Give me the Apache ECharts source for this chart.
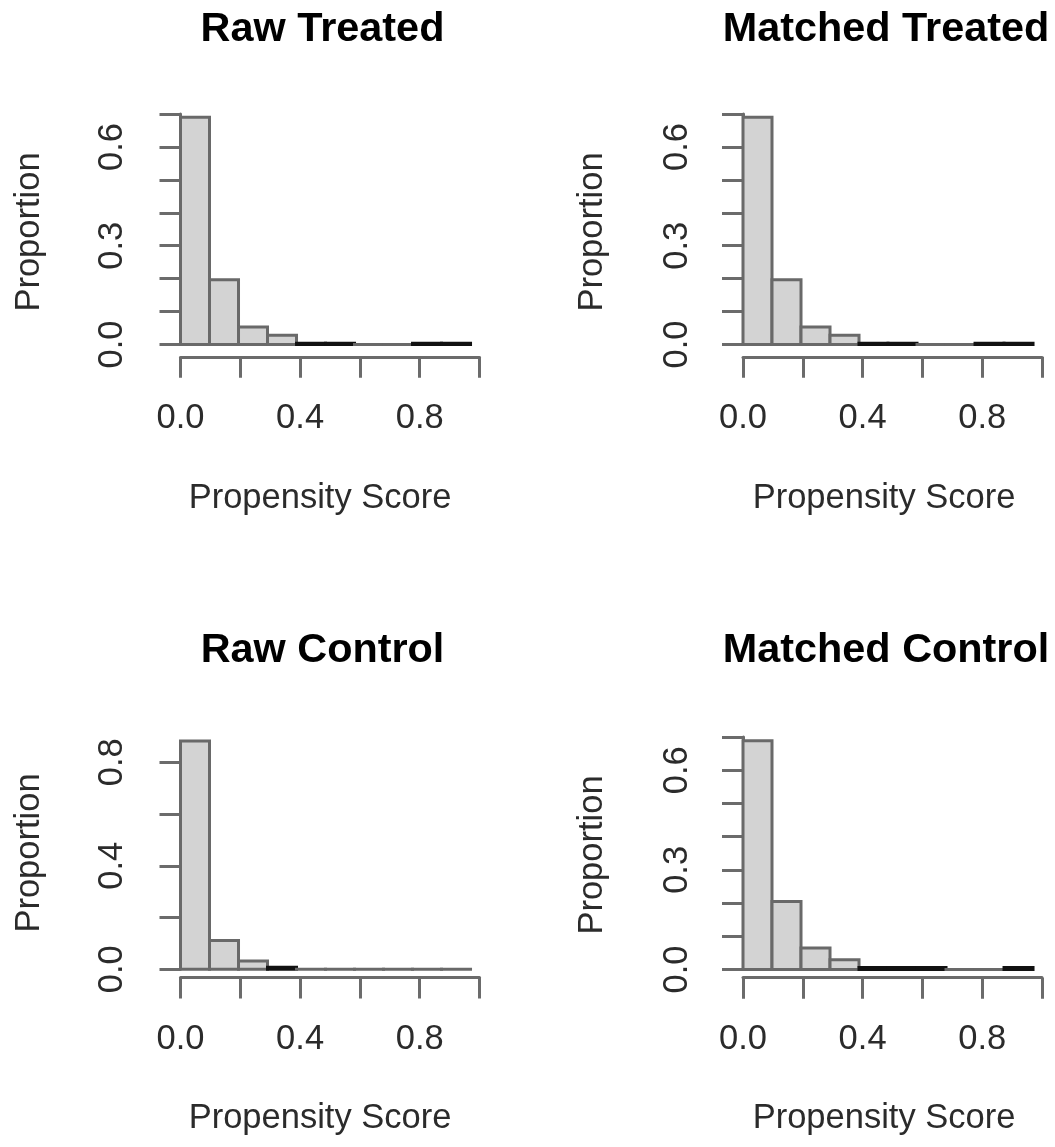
<!DOCTYPE html>
<html>
<head>
<meta charset="utf-8">
<script src="https://cdn.jsdelivr.net/npm/echarts@6/dist/echarts.min.js"></script>
<style>
html,body{margin:0;padding:0;background:#fff;}
#chart{width:1055px;height:1147px;}
</style>
</head>
<body>
<div id="chart"></div>
<script>
// ---- data ----
const breaks = [0.000, 0.097, 0.194, 0.291, 0.388, 0.485, 0.582, 0.679, 0.776, 0.873, 0.970];
const rawTreated     = [0.690, 0.197, 0.053, 0.028, 0.004, 0.004, 0, 0, 0.004, 0.004];
const matchedTreated = [0.690, 0.197, 0.053, 0.028, 0.004, 0.004, 0, 0, 0.004, 0.004];
const rawControl     = [0.882, 0.111, 0.032, 0.008, 0, 0, 0, 0, 0, 0];
const matchedControl = [0.689, 0.205, 0.065, 0.029, 0.006, 0.006, 0.006, 0, 0, 0.006];
const panelTitles = ['Raw Treated', 'Matched Treated', 'Raw Control', 'Matched Control'];
const xTickLabels = ['0.0', '0.4', '0.8'];
const yTickLabelsA = ['0.0', '0.3', '0.6'];
const yTickLabelsB = ['0.0', '0.4', '0.8'];
const xName = 'Propensity Score';
const yName = 'Proportion';

// ---- layout ----
const FONT = 'Liberation Sans, Arial, Helvetica, sans-serif';
const FS = 34.5;
const TXT = '#2b2b2b';
const panels = [
  {vals: rawTreated,     ymax: 0.7, yint: 0.1, ylab: yTickLabelsA, left: 180.5, top: 114,   height: 230.5, xoff: 12.3, yoff: 12.3, tx: 322.5, ty: 30,  ax: 29,  ay: 232, nx: 320, ny: 498},
  {vals: matchedTreated, ymax: 0.7, yint: 0.1, ylab: yTickLabelsA, left: 743,   top: 114,   height: 230.5, xoff: 12.3, yoff: 9.7,  tx: 886,   ty: 30,  ax: 592, ay: 232, nx: 884, ny: 498},
  {vals: rawControl,     ymax: 0.8, yint: 0.2, ylab: yTickLabelsB, left: 180.5, top: 762.3, height: 207,   xoff: 8.3,  yoff: 12.5, tx: 322.5, ty: 651, ax: 29,  ay: 853, nx: 320, ny: 1118},
  {vals: matchedControl, ymax: 0.7, yint: 0.1, ylab: yTickLabelsA, left: 743,   top: 737,   height: 232.5, xoff: 8.2,  yoff: 10,   tx: 886,   ty: 651, ax: 592, ay: 855, nx: 884, ny: 1118}
];

const AX = '#6b6b6b';
const grids = [], xAxes = [], yAxes = [], series = [], graphics = [];

panels.forEach((p, i) => {
  grids.push({left: p.left, top: p.top, width: 299, height: p.height, containLabel: false});
  xAxes.push({
    type: 'value', gridIndex: i, min: 0, max: 1, interval: 0.2, offset: p.xoff,
    axisLine: {show: true, onZero: false, lineStyle: {color: AX, width: 3}},
    axisTick: {show: true, length: 21, lineStyle: {color: AX, width: 3}},
    splitLine: {show: false},
    axisLabel: {
      margin: 44, fontSize: FS, fontFamily: FONT, color: TXT,
      formatter: v => { const s = v.toFixed(1); return xTickLabels.indexOf(s) >= 0 ? s : ''; }
    }
  });
  const labs = p.ylab;
  yAxes.push({
    type: 'value', gridIndex: i, min: 0, max: p.ymax, interval: p.yint, offset: p.yoff,
    axisLine: {show: true, lineStyle: {color: AX, width: 3}},
    axisTick: {show: true, length: 21, lineStyle: {color: AX, width: 3}},
    splitLine: {show: false},
    axisLabel: {
      rotate: 90, margin: 38, fontSize: FS, fontFamily: FONT, color: TXT,
      formatter: v => { const s = v.toFixed(1); return labs.indexOf(s) >= 0 ? s : ''; }
    }
  });
  const rows = p.vals.map((v, k) => [breaks[k], breaks[k + 1], v]);
  series.push({
    type: 'custom', xAxisIndex: i, yAxisIndex: i, clip: false, data: rows,
    renderItem: (params, api) => {
      const a = api.coord([api.value(0), 0]);
      const b = api.coord([api.value(1), api.value(2)]);
      const h = a[1] - b[1];
      const tiny = api.value(2) > 0 && h < 3;
      return {
        type: 'rect',
        shape: {x: a[0], y: b[1], width: b[0] - a[0], height: Math.max(h, 0.01)},
        style: {fill: '#d3d3d3', stroke: tiny ? '#111' : '#696969', lineWidth: 3}
      };
    }
  });
  graphics.push({type: 'text', x: p.tx, y: p.ty, style: {text: panelTitles[i], font: 'bold 41.4px ' + FONT, fill: '#000', textAlign: 'center', textVerticalAlign: 'middle'}});
  graphics.push({type: 'text', x: p.nx, y: p.ny, style: {text: xName, font: FS + 'px ' + FONT, fill: TXT, textAlign: 'center', textVerticalAlign: 'middle'}});
  graphics.push({type: 'text', x: p.ax, y: p.ay, rotation: Math.PI / 2, style: {text: yName, font: FS + 'px ' + FONT, fill: TXT, textAlign: 'center', textVerticalAlign: 'middle'}});
});

const chart = echarts.init(document.getElementById('chart'), null, {renderer: 'canvas'});
chart.setOption({
  animation: false,
  backgroundColor: '#fff',
  grid: grids, xAxis: xAxes, yAxis: yAxes, series: series, graphic: graphics
});
</script>
</body>
</html>
